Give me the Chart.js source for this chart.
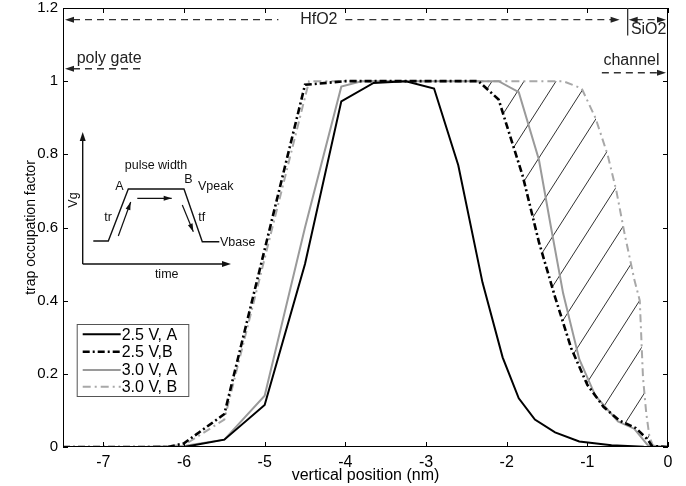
<!DOCTYPE html>
<html>
<head>
<meta charset="utf-8">
<script src="https://cdn.jsdelivr.net/npm/chart.js@4.4.0/dist/chart.umd.min.js"></script>
<style>
html,body{margin:0;padding:0;background:#fff;}
</style>
</head>
<body>
<canvas id="tof" width="686" height="486"></canvas>
<script>
const seriesNames = ['2.5 V, A', '2.5 V,B', '3.0 V, A', '3.0 V, B'];

// 2.5 V, A (black solid)
const xA25 = [-7.5, -7, -6.5, -6, -5.5, -5, -4.5, -4.05, -3.65, -3.25, -2.9, -2.6, -2.3, -2.05, -1.85, -1.65, -1.4, -1.1, -0.7, -0.3, 0];
const yA25 = [0, 0, 0, 0, 0.02, 0.115, 0.5, 0.945, 0.995, 1.0, 0.98, 0.77, 0.45, 0.245, 0.133, 0.075, 0.04, 0.015, 0.005, 0.001, 0];
// 2.5 V, B (black dash-dot)
const xB25 = [-7.5, -7, -6.5, -6.2, -6, -5.5, -4.5, -4, -3, -2.35, -2.1, -1.8, -1.6, -1.4, -1.2, -1, -0.8, -0.6, -0.4, -0.25, -0.2, 0];
const yB25 = [0, 0, 0, 0, 0.01, 0.09, 0.99, 1, 1, 1, 0.95, 0.74, 0.56, 0.41, 0.27, 0.17, 0.11, 0.072, 0.052, 0.02, 0.003, 0];
// 3.0 V, A (grey solid)
const xA30 = [-7.5, -7, -6.5, -6, -5.5, -5, -4.5, -4.05, -3.8, -3.3, -2.5, -2.1, -1.85, -1.6, -1.45, -1.3, -1.1, -0.9, -0.62, -0.42, -0.25, 0];
const yA30 = [0, 0, 0, 0.003, 0.02, 0.14, 0.6, 0.985, 1, 1, 1, 1, 0.97, 0.785, 0.6, 0.42, 0.24, 0.14, 0.07, 0.05, 0.005, 0];
// 3.0 V, B (grey dash-dot)
const xB30 = [-7.5, -7, -6.5, -6, -5.5, -4.45, -4, -3, -2, -1.3, -1.07, -0.9, -0.75, -0.64, -0.54, -0.42, -0.35, -0.31, -0.27, -0.23, -0.18, 0];
const yB30 = [0, 0, 0, 0.005, 0.075, 1, 1, 1, 1, 1, 0.98, 0.9, 0.8, 0.7, 0.585, 0.46, 0.40, 0.19, 0.093, 0.028, 0, 0];

const xTicks = [-7, -6, -5, -4, -3, -2, -1, 0];
const yTicks = [0, 0.2, 0.4, 0.6, 0.8, 1, 1.2];

const FONT = '"Liberation Sans", Arial, Helvetica, sans-serif';
Chart.defaults.font.family = FONT;
Chart.defaults.color = '#000';

function pts(xs, ys) {
	return xs.map((x, i) => ({x: x, y: ys[i]}));
}

function hatchPattern() {
	const w = 32, h = 50;
	const c = document.createElement('canvas');
	c.width = w; c.height = h;
	const g = c.getContext('2d');
	g.strokeStyle = '#1a1a1a';
	g.lineWidth = 0.9;
	for (const d of [-w, 0, w]) {
		g.beginPath();
		g.moveTo(d, h);
		g.lineTo(d + w, 0);
		g.stroke();
	}
	return g.createPattern(c, 'repeat');
}

function arrowHead(ctx, x, y, dir) {
	// dir: 1 points right, -1 left, 'up'
	ctx.beginPath();
	if (dir === 'up') {
		ctx.moveTo(x, y); ctx.lineTo(x - 3, y + 9); ctx.lineTo(x + 3, y + 9);
	} else {
		ctx.moveTo(x, y); ctx.lineTo(x - dir * 9, y - 3); ctx.lineTo(x - dir * 9, y + 3);
	}
	ctx.closePath();
	ctx.fill();
}

function dashed(ctx, x1, y1, x2, y2) {
	ctx.save();
	ctx.setLineDash([7, 5]);
	ctx.beginPath();
	ctx.moveTo(x1, y1);
	ctx.lineTo(x2, y2);
	ctx.stroke();
	ctx.restore();
}

function headOnLine(ctx, x1, y1, x2, y2, len) {
	const a = Math.atan2(y2 - y1, x2 - x1);
	ctx.beginPath();
	ctx.moveTo(x2, y2);
	ctx.lineTo(x2 - len * Math.cos(a) + 2.5 * Math.sin(a), y2 - len * Math.sin(a) - 2.5 * Math.cos(a));
	ctx.lineTo(x2 - len * Math.cos(a) - 2.5 * Math.sin(a), y2 - len * Math.sin(a) + 2.5 * Math.cos(a));
	ctx.closePath();
	ctx.fill();
}

const decor = {
	id: 'decor',
	afterDraw(chart) {
		const ctx = chart.ctx;
		const ca = chart.chartArea;
		const xs = chart.scales.x, ys = chart.scales.y;
		const X = v => xs.getPixelForValue(v);
		const Y = v => ys.getPixelForValue(v);

		ctx.save();
		ctx.strokeStyle = '#000';
		ctx.fillStyle = '#000';
		ctx.lineWidth = 1;

		// frame with inward ticks
		ctx.strokeRect(ca.left + 0.5, ca.top + 0.5, ca.right - ca.left - 1, ca.bottom - ca.top - 1);
		ctx.beginPath();
		xTicks.forEach(v => {
			const p = Math.round(X(v)) + 0.5;
			ctx.moveTo(p, ca.bottom); ctx.lineTo(p, ca.bottom - 5);
			ctx.moveTo(p, ca.top); ctx.lineTo(p, ca.top + 5);
		});
		yTicks.forEach(v => {
			const p = Math.round(Y(v)) + 0.5;
			ctx.moveTo(ca.left, p); ctx.lineTo(ca.left + 5, p);
			ctx.moveTo(ca.right, p); ctx.lineTo(ca.right - 5, p);
		});
		ctx.stroke();

		// region annotations
		ctx.strokeStyle = '#333';
		ctx.fillStyle = '#222';
		ctx.lineWidth = 1.3;
		ctx.font = '16px ' + FONT;
		ctx.textBaseline = 'middle';
		let yy = Y(1.168);
		dashed(ctx, ca.left + 10, yy, X(-4.83), yy);
		arrowHead(ctx, ca.left + 2, yy, -1);
		ctx.fillText('HfO2', X(-4.56), yy);
		dashed(ctx, X(-4.0), yy, X(-0.6) - 8, yy);
		arrowHead(ctx, X(-0.6), yy, 1);
		// HfO2 / SiO2 boundary
		ctx.beginPath();
		ctx.moveTo(X(-0.5), ca.top);
		ctx.lineTo(X(-0.5), Y(1.125));
		ctx.stroke();
		dashed(ctx, X(-0.5) + 8, yy, ca.right - 8, yy);
		arrowHead(ctx, X(-0.5) + 1, yy, -1);
		arrowHead(ctx, ca.right - 2, yy, 1);
		ctx.fillText('SiO2', X(-0.46), Y(1.14));

		ctx.fillText('poly gate', X(-7.33), Y(1.062));
		yy = Y(1.034);
		dashed(ctx, ca.left + 10, yy, X(-6.5), yy);
		arrowHead(ctx, ca.left + 2, yy, -1);

		ctx.fillText('channel', X(-0.8), Y(1.056));
		yy = Y(1.023);
		dashed(ctx, X(-0.82), yy, ca.right - 10, yy);
		arrowHead(ctx, ca.right - 2, yy, 1);

		// pulse schematic inset
		const ox = ca.left, oy = ca.top;
		ctx.strokeStyle = '#111';
		ctx.fillStyle = '#111';
		ctx.lineWidth = 1.4;
		ctx.beginPath();
		ctx.moveTo(ox + 19.7, oy + 256); ctx.lineTo(ox + 19.7, oy + 130);
		ctx.moveTo(ox + 19.7, oy + 256); ctx.lineTo(ox + 162, oy + 256);
		ctx.stroke();
		arrowHead(ctx, ox + 19.7, oy + 124, 'up');
		arrowHead(ctx, ox + 168, oy + 256, 1);
		ctx.beginPath();
		ctx.moveTo(ox + 30.3, oy + 233);
		ctx.lineTo(ox + 45.3, oy + 233);
		ctx.lineTo(ox + 65.3, oy + 181);
		ctx.lineTo(ox + 121, oy + 181);
		ctx.lineTo(ox + 139.3, oy + 233.7);
		ctx.lineTo(ox + 156.3, oy + 233.7);
		ctx.stroke();
		const arrows = [[55.3, 228, 67.7, 194], [74.3, 190.3, 108.7, 190.3], [119.3, 197, 130.3, 223.7]];
		ctx.lineWidth = 1.2;
		arrows.forEach(a => {
			ctx.beginPath();
			ctx.moveTo(ox + a[0], oy + a[1]); ctx.lineTo(ox + a[2], oy + a[3]);
			ctx.stroke();
			headOnLine(ctx, ox + a[0], oy + a[1], ox + a[2], oy + a[3], 8);
		});
		ctx.font = '12.5px ' + FONT;
		ctx.textAlign = 'center';
		ctx.fillText('pulse width', ox + 93, oy + 157.7);
		ctx.fillText('A', ox + 56.3, oy + 179);
		ctx.fillText('B', ox + 125.3, oy + 172);
		ctx.fillText('tr', ox + 45, oy + 210);
		ctx.fillText('tf', ox + 138.7, oy + 210);
		ctx.fillText('time', ox + 103.7, oy + 267);
		ctx.textAlign = 'left';
		ctx.fillText('Vpeak', ox + 135, oy + 179);
		ctx.fillText('Vbase', ox + 157, oy + 235);
		ctx.save();
		ctx.translate(ox + 10.3, oy + 192);
		ctx.rotate(-Math.PI / 2);
		ctx.textAlign = 'center';
		ctx.fillText('Vg', 0, 0);
		ctx.restore();

		// legend box
		ctx.fillStyle = '#fff';
		ctx.strokeStyle = '#555';
		ctx.lineWidth = 1;
		ctx.fillRect(ox + 13.7, oy + 316, 111.6, 72);
		ctx.strokeRect(ox + 13.7 + 0.5, oy + 316 + 0.5, 111.6, 72);
		const rows = [326.3, 343.7, 362, 378.7];
		ctx.font = '16px ' + FONT;
		ctx.textAlign = 'left';
		chart.data.datasets.forEach((ds, i) => {
			const ry = oy + rows[i];
			ctx.save();
			ctx.strokeStyle = ds.borderColor;
			ctx.lineWidth = ds.borderWidth;
			ctx.setLineDash(ds.borderDash || []);
			ctx.beginPath();
			ctx.moveTo(ox + 19.7, ry); ctx.lineTo(ox + 57.7, ry);
			ctx.stroke();
			ctx.restore();
			ctx.fillStyle = '#000';
			ctx.fillText(ds.label, ox + 58.7, ry + 1);
		});
		ctx.restore();
	}
};

const cht = document.getElementById('tof').getContext('2d');
const tof = new Chart(cht, {
	type: 'line',
	data: {
		datasets: [
			{
				label: seriesNames[0],
				data: pts(xA25, yA25),
				borderColor: '#000',
				borderWidth: 2,
				fill: false,
			},
			{
				label: seriesNames[1],
				data: pts(xB25, yB25),
				borderColor: '#000',
				borderWidth: 2.6,
				borderDash: [7, 3, 2, 3],
				fill: false,
			},
			{
				label: seriesNames[2],
				data: pts(xA30, yA30),
				borderColor: '#9a9a9a',
				borderWidth: 2,
				fill: false,
			},
			{
				label: seriesNames[3],
				data: pts(xB30, yB30),
				borderColor: '#a8a8a8',
				borderWidth: 2,
				borderDash: [8, 4, 2, 4],
				fill: {target: 1, above: hatchPattern(), below: 'rgba(0,0,0,0)'},
			},
		]
	},
	options: {
		responsive: false,
		animation: false,
		layout: {padding: {top: 8, right: 18, left: 0, bottom: 0}},
		elements: {
			point: {radius: 0},
			line: {tension: 0, borderCapStyle: 'butt'},
		},
		plugins: {
			legend: {display: false},
			tooltip: {enabled: false},
		},
		scales: {
			x: {
				type: 'linear',
				min: -7.5,
				max: 0,
				afterBuildTicks: ax => { ax.ticks = xTicks.map(v => ({value: v})); },
				afterFit: ax => { ax.height = 39; ax.paddingLeft = 0; ax.paddingRight = 0; },
				grid: {display: false, drawTicks: false},
				border: {display: false},
				ticks: {font: {size: 16}, padding: 6, maxRotation: 0, callback: v => String(v)},
				title: {display: true, text: 'vertical position (nm)', font: {size: 16}, padding: {top: 0, bottom: 1}},
			},
			y: {
				type: 'linear',
				min: 0,
				max: 1.2,
				afterBuildTicks: ax => { ax.ticks = yTicks.map(v => ({value: v})); },
				afterFit: ax => { ax.width = 63; ax.paddingTop = 0; ax.paddingBottom = 0; },
				grid: {display: false, drawTicks: false},
				border: {display: false},
				ticks: {font: {size: 15}, padding: 5, callback: v => String(v)},
				title: {display: true, text: 'trap occupation factor', font: {size: 14}, padding: {top: 23, bottom: 0}},
			},
		},
	},
	plugins: [decor]
});
</script>
</body>
</html>
